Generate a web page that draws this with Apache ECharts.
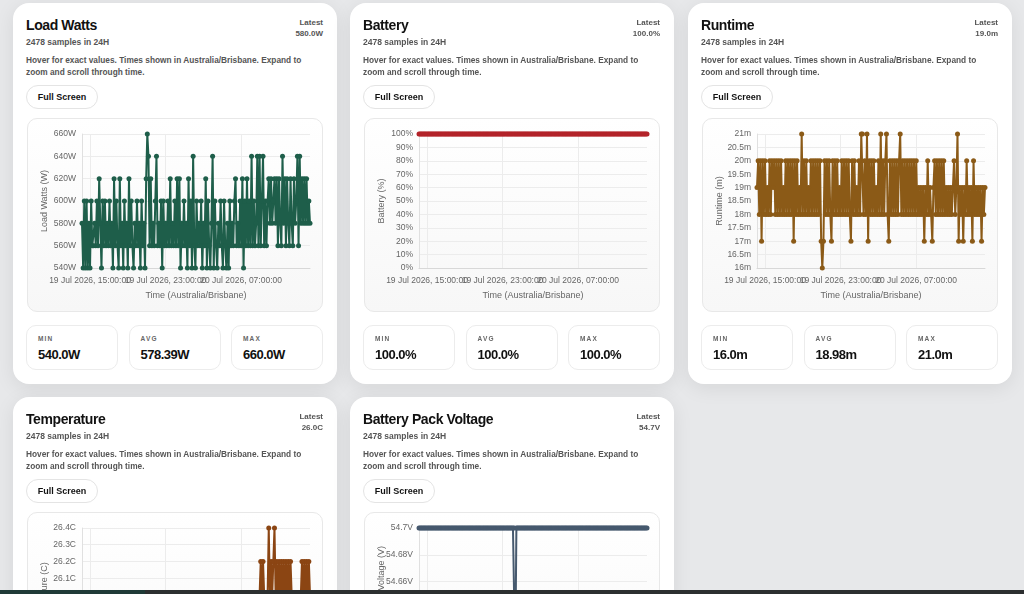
<!DOCTYPE html>
<html>
<head>
<meta charset="utf-8">
<script src="https://cdn.jsdelivr.net/npm/echarts@6/dist/echarts.min.js"></script>
<style>
  html, body { margin: 0; padding: 0; }
  body {
    width: 1024px; height: 594px; overflow: hidden; position: relative;
    background: #e7e8ea;
    font-family: "Liberation Sans", Arial, Helvetica, sans-serif;
  }
  .card {
    position: absolute; width: 324px; height: 381px;
    background: #fff; border-radius: 16px;
    box-shadow: 0 4px 20px rgba(0,0,0,0.08);
  }
  .title { position: absolute; left: 13px; top: 12px; font-size: 14px; line-height: 20px; font-weight: 700; color: #111; letter-spacing: -0.4px; }
  .sub { position: absolute; left: 13px; top: 33px; font-size: 8.5px; line-height: 12px; font-weight: 700; color: #555; }
  .latest { position: absolute; right: 14px; top: 14px; text-align: right; font-size: 8px; line-height: 11px; font-weight: 700; color: #555; }
  .desc { position: absolute; left: 13px; top: 51px; width: 300px; font-size: 8.3px; line-height: 12px; font-weight: 700; color: #555; }
  .btn {
    position: absolute; left: 13px; top: 82px; width: 72px; height: 24px;
    border: 1px solid #e4e4e4; border-radius: 13px; box-sizing: border-box;
    font-size: 9px; font-weight: 700; color: #111; text-align: center; line-height: 22px;
  }
  .box {
    position: absolute; left: 14px; top: 115px; width: 296px; height: 194px;
    border: 1px solid #e8e8e8; border-radius: 10px; box-sizing: border-box;
    background: linear-gradient(#ffffff, #f7f7f7); overflow: hidden;
  }
  .chart { position: absolute; left: -1px; top: -1px; width: 296px; height: 194px; }
  .stat {
    position: absolute; top: 322px; width: 92px; height: 45px;
    border: 1px solid #ececec; border-radius: 10px; box-sizing: border-box;
  }
  .stat .k { position: absolute; left: 11px; top: 9px; font-size: 6.5px; font-weight: 700; letter-spacing: 1.2px; color: #666; }
  .stat .v { position: absolute; left: 11px; top: 21px; font-size: 13px; font-weight: 700; color: #111; letter-spacing: -0.5px; }
  .dock { position: absolute; z-index: 10; left: 0; top: 590px; width: 1024px; height: 4px; background: #2c2f30; }
  .dock i { position: absolute; left: 0; top: 0; width: 145px; height: 4px; background: #1f3a37; }
</style>
</head>
<body>
<div class="dock"><i></i></div>
<script>
// sampling window (Australia/Brisbane clock, kept as UTC ms)
const startTime = Date.UTC(2026, 6, 19, 14, 9)
const endTime = Date.UTC(2026, 6, 20, 14, 18)
const tickTimes = [Date.UTC(2026, 6, 19, 15), Date.UTC(2026, 6, 19, 23), Date.UTC(2026, 6, 20, 7)]

const loadWatts = [
  580, 540, 600, 540, 600, 540, 580, 540, 600, 560,
  560, 580, 560, 600, 560, 620, 580, 540, 600, 560,
  600, 560, 580, 560, 600, 560, 580, 540, 620, 560,
  600, 560, 540, 620, 560, 580, 540, 600, 560, 580,
  540, 620, 560, 600, 560, 540, 580, 560, 600, 560,
  580, 540, 600, 560, 580, 540, 620, 660, 640, 560,
  620, 560, 580, 560, 600, 640, 560, 580, 560, 600,
  540, 600, 560, 580, 560, 600, 560, 620, 560, 580,
  560, 600, 560, 620, 560, 620, 540, 580, 560, 600,
  560, 580, 540, 620, 560, 600, 540, 640, 560, 540,
  600, 560, 580, 560, 600, 540, 580, 560, 620, 540,
  600, 560, 540, 580, 640, 540, 600, 560, 540, 580,
  560, 600, 560, 540, 600, 560, 540, 580, 540, 600,
  560, 580, 560, 600, 620, 560, 580, 560, 600, 560,
  620, 540, 600, 560, 620, 560, 600, 560, 640, 560,
  600, 560, 580, 640, 560, 640, 560, 600, 640, 560,
  600, 560, 600, 620, 580, 620, 580, 600, 620, 580,
  620, 560, 620, 580, 560, 640, 580, 620, 560, 620,
  580, 560, 620, 580, 560, 620, 580, 600, 640, 560,
  640, 580, 620, 580, 620, 580, 620, 580, 600, 580
]

const batteryPct = [
  100, 100, 100, 100, 100, 100, 100, 100, 100, 100,
  100, 100, 100, 100, 100, 100, 100, 100, 100, 100,
  100, 100, 100, 100, 100, 100, 100, 100, 100, 100,
  100, 100, 100, 100, 100, 100, 100, 100, 100, 100,
  100, 100, 100, 100, 100, 100, 100, 100, 100, 100,
  100, 100, 100, 100, 100, 100, 100, 100, 100, 100,
  100, 100, 100, 100, 100, 100, 100, 100, 100, 100,
  100, 100, 100, 100, 100, 100, 100, 100, 100, 100,
  100, 100, 100, 100, 100, 100, 100, 100, 100, 100,
  100, 100, 100, 100, 100, 100, 100, 100, 100, 100,
  100, 100, 100, 100, 100, 100, 100, 100, 100, 100,
  100, 100, 100, 100, 100, 100, 100, 100, 100, 100,
  100, 100, 100, 100, 100, 100, 100, 100, 100, 100,
  100, 100, 100, 100, 100, 100, 100, 100, 100, 100,
  100, 100, 100, 100, 100, 100, 100, 100, 100, 100,
  100, 100, 100, 100, 100, 100, 100, 100, 100, 100,
  100, 100, 100, 100, 100, 100, 100, 100, 100, 100,
  100, 100, 100, 100, 100, 100, 100, 100, 100, 100,
  100, 100, 100, 100, 100, 100, 100, 100, 100, 100,
  100, 100, 100, 100, 100, 100, 100, 100, 100, 100
]

const runtimeMin = [
  19, 20, 18, 20, 17, 20, 18, 20, 18, 19,
  18, 20, 18, 20, 19, 20, 18, 20, 18, 20,
  18, 20, 18, 19, 18, 20, 18, 20, 18, 20,
  18, 20, 17, 20, 18, 20, 18, 19, 18, 21,
  18, 20, 18, 20, 18, 19, 18, 20, 18, 20,
  18, 20, 18, 20, 18, 20, 17, 16, 17, 20,
  18, 20, 18, 20, 18, 17, 20, 18, 20, 18,
  20, 18, 19, 18, 20, 18, 20, 18, 20, 18,
  20, 18, 17, 20, 18, 20, 18, 19, 18, 20,
  18, 21, 21, 18, 20, 18, 21, 17, 20, 18,
  20, 18, 20, 18, 19, 18, 20, 18, 21, 18,
  20, 18, 20, 21, 18, 17, 20, 18, 20, 18,
  20, 18, 20, 18, 20, 21, 18, 20, 18, 20,
  18, 20, 18, 20, 18, 20, 18, 20, 18, 20,
  18, 19, 18, 19, 18, 19, 17, 19, 18, 20,
  18, 19, 18, 17, 19, 20, 18, 20, 18, 20,
  18, 20, 18, 20, 18, 19, 18, 19, 18, 19,
  18, 19, 20, 18, 19, 21, 17, 19, 18, 19,
  17, 19, 18, 20, 18, 19, 18, 19, 17, 20,
  18, 19, 18, 19, 18, 19, 17, 19, 18, 19
]

const temperatureC = [
  26.0, 26.0, 25.9, 26.0, 26.0, 25.9, 26.0, 26.0, 26.0, 25.9,
  26.0, 25.9, 26.0, 26.0, 25.9, 26.0, 26.0, 26.0, 25.9, 26.0,
  25.9, 25.9, 26.0, 25.9, 25.8, 25.9, 26.0, 25.9, 25.9, 26.0,
  25.9, 25.8, 25.9, 25.9, 26.0, 25.9, 25.8, 25.9, 25.9, 25.8,
  25.9, 25.8, 25.8, 25.9, 25.8, 25.9, 25.8, 25.8, 25.9, 25.8,
  25.8, 25.9, 25.8, 25.8, 25.8, 25.9, 25.8, 25.8, 25.9, 25.8,
  25.8, 25.8, 25.9, 25.8, 25.8, 25.8, 25.9, 25.8, 25.8, 25.8,
  25.9, 25.8, 25.8, 25.9, 25.8, 25.8, 25.9, 25.8, 25.9, 25.8,
  25.9, 25.8, 25.9, 25.9, 25.8, 25.9, 25.9, 26.0, 25.9, 25.9,
  26.0, 25.9, 25.9, 26.0, 25.9, 26.0, 25.9, 26.0, 26.0, 25.9,
  26.0, 26.0, 25.9, 26.0, 26.0, 26.0, 25.9, 26.0, 26.0, 26.0,
  25.9, 26.0, 26.0, 26.0, 25.9, 26.0, 26.0, 25.9, 26.0, 26.0,
  26.0, 25.9, 26.0, 26.0, 26.0, 25.9, 26.0, 26.0, 25.9, 26.0,
  26.0, 26.0, 25.9, 26.0, 26.0, 26.0, 26.0, 25.9, 26.0, 26.0,
  25.9, 26.0, 26.0, 26.0, 25.9, 26.0, 26.0, 26.0, 26.0, 25.9,
  26.0, 25.9, 26.0, 26.0, 25.9, 26.0, 26.2, 26.0, 26.2, 26.0,
  26.0, 25.9, 26.0, 26.4, 26.0, 26.2, 26.0, 26.2, 26.4, 26.0,
  26.2, 26.0, 26.2, 26.0, 26.2, 26.0, 26.2, 26.0, 26.2, 26.0,
  26.2, 26.0, 26.2, 26.0, 25.9, 26.0, 26.0, 25.9, 26.0, 26.0,
  25.9, 26.0, 26.2, 26.0, 26.2, 26.0, 26.2, 26.0, 26.2, 26.0
]

const packVoltage = [
  54.7, 54.7, 54.7, 54.7, 54.7, 54.7, 54.7, 54.7, 54.7, 54.7,
  54.7, 54.7, 54.7, 54.7, 54.7, 54.7, 54.7, 54.7, 54.7, 54.7,
  54.7, 54.7, 54.7, 54.7, 54.7, 54.7, 54.7, 54.7, 54.7, 54.7,
  54.7, 54.7, 54.7, 54.7, 54.7, 54.7, 54.7, 54.7, 54.7, 54.7,
  54.7, 54.7, 54.7, 54.7, 54.7, 54.7, 54.7, 54.7, 54.7, 54.7,
  54.7, 54.7, 54.7, 54.7, 54.7, 54.7, 54.7, 54.7, 54.7, 54.7,
  54.7, 54.7, 54.7, 54.7, 54.7, 54.7, 54.7, 54.7, 54.7, 54.7,
  54.7, 54.7, 54.7, 54.7, 54.7, 54.7, 54.7, 54.7, 54.7, 54.7,
  54.7, 54.7, 54.7, 54.7, 54.6, 54.7, 54.7, 54.7, 54.7, 54.7,
  54.7, 54.7, 54.7, 54.7, 54.7, 54.7, 54.7, 54.7, 54.7, 54.7,
  54.7, 54.7, 54.7, 54.7, 54.7, 54.7, 54.7, 54.7, 54.7, 54.7,
  54.7, 54.7, 54.7, 54.7, 54.7, 54.7, 54.7, 54.7, 54.7, 54.7,
  54.7, 54.7, 54.7, 54.7, 54.7, 54.7, 54.7, 54.7, 54.7, 54.7,
  54.7, 54.7, 54.7, 54.7, 54.7, 54.7, 54.7, 54.7, 54.7, 54.7,
  54.7, 54.7, 54.7, 54.7, 54.7, 54.7, 54.7, 54.7, 54.7, 54.7,
  54.7, 54.7, 54.7, 54.7, 54.7, 54.7, 54.7, 54.7, 54.7, 54.7,
  54.7, 54.7, 54.7, 54.7, 54.7, 54.7, 54.7, 54.7, 54.7, 54.7,
  54.7, 54.7, 54.7, 54.7, 54.7, 54.7, 54.7, 54.7, 54.7, 54.7,
  54.7, 54.7, 54.7, 54.7, 54.7, 54.7, 54.7, 54.7, 54.7, 54.7,
  54.7, 54.7, 54.7, 54.7, 54.7, 54.7, 54.7, 54.7, 54.7, 54.7
]

// card texts
const titles = ['Load Watts', 'Battery', 'Runtime', 'Temperature', 'Battery Pack Voltage']
const latestValues = ['580.0W', '100.0%', '19.0m', '26.0C', '54.7V']
const minValues = ['540.0W', '100.0%', '16.0m']
const avgValues = ['578.39W', '100.0%', '18.98m']
const maxValues = ['660.0W', '100.0%', '21.0m']
const yNames = ['Load Watts (W)', 'Battery (%)', 'Runtime (m)', 'Temperature (C)', 'Battery Pack Voltage (V)']

const cards = [
  { left: 13, top: 3, data: loadWatts, color: '#1e5e4a', min: 540, max: 660, interval: 20, fmt: v => v + 'W' },
  { left: 350, top: 3, data: batteryPct, color: '#b3242a', min: 0, max: 100, interval: 10, fmt: v => v + '%' },
  { left: 688, top: 3, data: runtimeMin, color: '#8b5a17', min: 16, max: 21, interval: 0.5, fmt: v => v + 'm' },
  { left: 13, top: 397, data: temperatureC, color: '#8b4513', min: 25.6, max: 26.4, interval: 0.1, fmt: v => v.toFixed(1) + 'C' },
  { left: 350, top: 397, data: packVoltage, color: '#46596e', min: 54.6, max: 54.7, interval: 0.02, fmt: v => (+v.toFixed(2)) + 'V' }
]

const MONTHS = ['Jan', 'Feb', 'Mar', 'Apr', 'May', 'Jun', 'Jul', 'Aug', 'Sep', 'Oct', 'Nov', 'Dec']
function fmtTime(v) {
  var d = new Date(v)
  var p = n => String(n).padStart(2, '0')
  return d.getUTCDate() + ' ' + MONTHS[d.getUTCMonth()] + ' ' + d.getUTCFullYear() + ', ' +
    p(d.getUTCHours()) + ':' + p(d.getUTCMinutes()) + ':' + p(d.getUTCSeconds())
}

function el(tag, cls, parent, html) {
  var e = document.createElement(tag)
  if (cls) e.className = cls
  if (html !== undefined) e.innerHTML = html
  parent.appendChild(e)
  return e
}

const labelStyle = { color: '#666', fontSize: 8.5, fontFamily: 'Liberation Sans', margin: 8, hideOverlap: false, formatter: fmtTime }

cards.forEach((c, idx) => {
  var card = el('div', 'card', document.body)
  card.style.left = c.left + 'px'
  card.style.top = c.top + 'px'
  el('div', 'title', card, titles[idx])
  el('div', 'sub', card, '2478 samples in 24H')
  el('div', 'latest', card, 'Latest<br>' + latestValues[idx])
  el('div', 'desc', card, 'Hover for exact values. Times shown in Australia/Brisbane. Expand to<br>zoom and scroll through time.')
  el('div', 'btn', card, 'Full Screen')
  var box = el('div', 'box', card)
  var chartEl = el('div', 'chart', box)
  if (idx < 3) {
    var labels = ['MIN', 'AVG', 'MAX']
    var vals = [minValues[idx], avgValues[idx], maxValues[idx]]
    labels.forEach((k, j) => {
      var s = el('div', 'stat', card)
      s.style.left = (13 + j * 102.5) + 'px'
      el('div', 'k', s, k)
      el('div', 'v', s, vals[j])
    })
  }

  // sample times spread evenly over the 24H window
  var n = c.data.length
  var step = (endTime - startTime) / (n - 1)
  var points = c.data.map((v, i) => [startTime + i * step, v])

  var chart = echarts.init(chartEl)
  chart.setOption({
    animation: false,
    grid: { left: 55, right: 13, top: 16, bottom: 44, outerBoundsMode: 'none' },
    xAxis: [{
      type: 'value',
      min: startTime,
      max: endTime,
      name: 'Time (Australia/Brisbane)',
      nameLocation: 'middle',
      nameGap: 23,
      nameMoveOverlap: false,
      nameTextStyle: { color: '#666', fontSize: 9, fontFamily: 'Liberation Sans' },
      axisLine: { lineStyle: { color: '#d8d8d8' } },
      axisTick: { show: false, customValues: tickTimes },
      axisLabel: Object.assign({ customValues: [tickTimes[0], tickTimes[2]], showMinLabel: true, showMaxLabel: true }, labelStyle),
      splitLine: { show: true, lineStyle: { color: '#ececec' } }
    }, {
      // middle label kept on its own axis so it is not dropped for overlapping
      type: 'value',
      min: startTime,
      max: endTime,
      position: 'bottom',
      axisLine: { show: false },
      axisTick: { show: false, customValues: [tickTimes[1]] },
      axisLabel: Object.assign({ customValues: [tickTimes[1]], showMinLabel: true, showMaxLabel: true }, labelStyle),
      splitLine: { show: false }
    }],
    yAxis: {
      type: 'value',
      min: c.min,
      max: c.max,
      interval: c.interval,
      name: yNames[idx],
      nameLocation: 'middle',
      nameGap: 33,
      nameMoveOverlap: false,
      nameTextStyle: { color: '#666', fontSize: 9, fontFamily: 'Liberation Sans' },
      axisLine: { show: true, lineStyle: { color: '#e0e0e0' } },
      axisTick: { show: false },
      axisLabel: { formatter: c.fmt, color: '#666', fontSize: 8.5, fontFamily: 'Liberation Sans', margin: 6 },
      splitLine: { lineStyle: { color: '#ececec' } }
    },
    series: [{
      type: 'line',
      data: points,
      symbol: 'circle',
      symbolSize: 5,
      showSymbol: true,
      lineStyle: { width: 2, color: c.color },
      itemStyle: { color: c.color }
    }]
  })
})
</script>
</body>
</html>
